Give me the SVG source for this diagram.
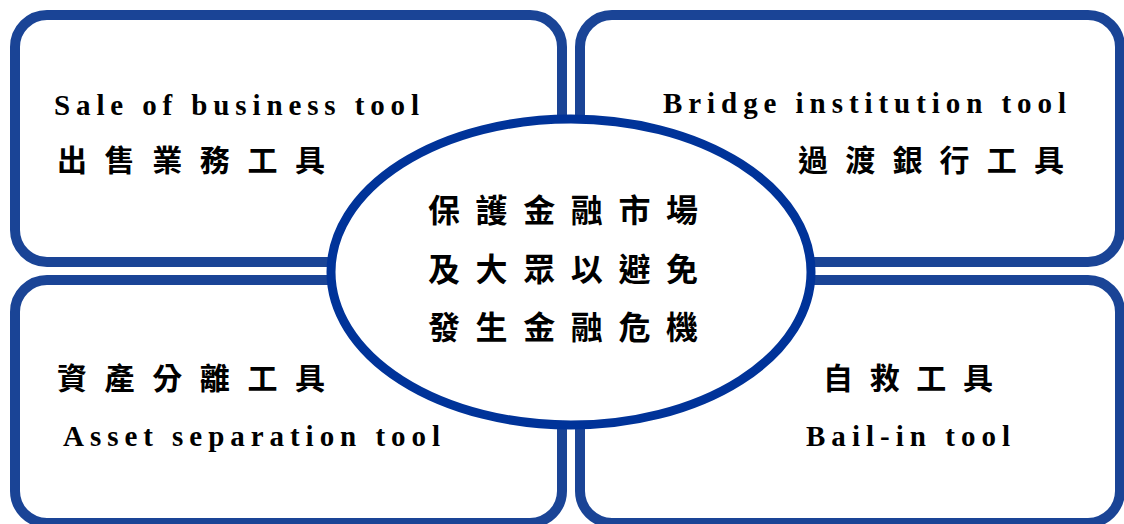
<svg xmlns="http://www.w3.org/2000/svg" width="1124" height="524" viewBox="0 0 1124 524">
<style>
.box{fill:#ffffff;stroke:#1a4496;stroke-width:10}
.oval{fill:#ffffff;stroke:#003399;stroke-width:9}
.en{font-family:"Liberation Serif","Times New Roman",serif;font-weight:bold;font-size:29px;fill:#000}
.zh{font-family:"Noto Sans CJK TC","Noto Sans CJK SC",sans-serif;font-weight:bold;font-size:30px;fill:#000}
.zc{font-family:"Noto Sans CJK TC","Noto Sans CJK SC",sans-serif;font-weight:bold;font-size:32px;fill:#000}
</style>
<rect width="1124" height="524" fill="#ffffff"/>
<g id="sale">
<rect class="box" x="15" y="15" width="547" height="247" rx="32"/>
<text class="en" x="54" y="115" textLength="365" lengthAdjust="spacing">Sale of business tool</text>
<text class="zh" x="57" y="171" textLength="268" lengthAdjust="spacing">出售業務工具</text>
</g>
<g id="bridge">
<rect class="box" x="580" y="15" width="540" height="247" rx="32"/>
<text class="en" x="663" y="113" textLength="403" lengthAdjust="spacing">Bridge institution tool</text>
<text class="zh" x="798" y="171" textLength="266" lengthAdjust="spacing">過渡銀行工具</text>
</g>
<g id="asset">
<rect class="box" x="15" y="280" width="547" height="243" rx="32"/>
<text class="zh" x="57" y="389" textLength="268" lengthAdjust="spacing">資產分離工具</text>
<text class="en" x="63" y="446" textLength="377" lengthAdjust="spacing">Asset separation tool</text>
</g>
<g id="bailin">
<rect class="box" x="580" y="280" width="540" height="243" rx="32"/>
<text class="zh" x="823" y="389" textLength="170" lengthAdjust="spacing">自救工具</text>
<text class="en" x="806" y="446" textLength="204" lengthAdjust="spacing">Bail-in tool</text>
</g>
<g id="center">
<ellipse class="oval" cx="571" cy="272" rx="240" ry="153"/>
<text class="zc" x="428" y="222" textLength="270" lengthAdjust="spacing">保護金融市場</text>
<text class="zc" x="428" y="281" textLength="270" lengthAdjust="spacing">及大眾以避免</text>
<text class="zc" x="428" y="339" textLength="270" lengthAdjust="spacing">發生金融危機</text>
</g>
<g id="connectors"/>
</svg>
